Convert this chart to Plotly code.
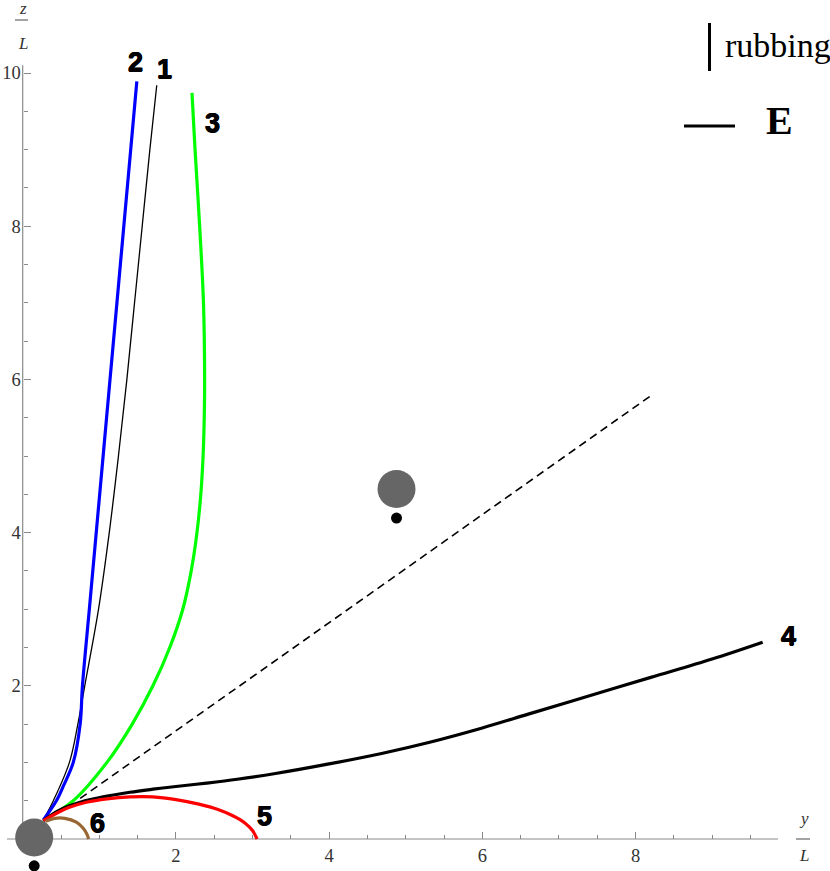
import plotly.graph_objects as go

# trajectories, values in units of L (y/L horizontal, z/L vertical)
c1_x = [0.27, 0.40, 0.61, 0.72, 0.81, 0.99, 1.13, 1.25, 1.36, 1.46, 1.56, 1.66, 1.75]
c1_z = [0.25, 0.50, 1.00, 1.50, 2.00, 3.00, 4.00, 5.00, 6.00, 7.00, 8.00, 9.00, 9.84]

c2_x = [0.27, 0.44, 0.53, 0.66, 0.75, 0.78, 0.87, 0.96, 1.05, 1.14, 1.23, 1.32, 1.41, 1.49]
c2_z = [0.25, 0.50, 0.69, 1.00, 1.50, 2.00, 3.00, 4.00, 5.00, 6.00, 7.00, 8.00, 9.00, 9.89]

c3_x = [0.27, 0.66, 1.10, 1.43, 1.70, 1.92, 2.09, 2.20, 2.275, 2.325, 2.355, 2.37, 2.375, 2.36, 2.31, 2.25, 2.21]
c3_z = [0.25, 0.50, 1.00, 1.50, 2.00, 2.50, 3.00, 3.50, 4.00, 4.50, 5.00, 5.50, 6.00, 7.00, 8.00, 9.00, 9.74]

c4_x = [0.27, 0.45, 0.60, 0.75, 1.05, 1.40, 1.70, 2.00, 2.40, 2.80, 3.30, 4.00, 4.70, 5.30, 6.00, 6.60, 7.40, 8.20, 9.00, 9.66]
c4_z = [0.24, 0.36, 0.43, 0.48, 0.55, 0.61, 0.65, 0.685, 0.73, 0.78, 0.855, 0.98, 1.12, 1.26, 1.45, 1.63, 1.87, 2.11, 2.35, 2.57]

c5_x = [0.27, 0.45, 0.60, 0.83, 1.10, 1.40, 1.70, 2.00, 2.30, 2.55, 2.75, 2.90, 3.00, 3.06]
c5_z = [0.24, 0.34, 0.41, 0.48, 0.525, 0.55, 0.55, 0.515, 0.455, 0.385, 0.30, 0.21, 0.11, 0.0]

c6_x = [0.30, 0.42, 0.55, 0.70, 0.79, 0.84, 0.86]
c6_z = [0.23, 0.27, 0.27, 0.22, 0.14, 0.06, 0.0]

# field direction (dashed)
dash_x = [0.75, 8.19]
dash_z = [0.53, 5.78]

# particles: big grey disks with small black dots beneath
disk_x = [0.15, 4.88]
disk_z = [0.02, 4.57]
dot_x = [0.15, 4.88]
dot_z = [-0.35, 4.19]

labels = ["1", "2", "3", "4", "5", "6"]
label_x = [1.85, 1.47, 2.48, 10.0, 3.16, 0.98]
label_z = [10.05, 10.14, 9.35, 2.65, 0.30, 0.215]

x_ticks = [2, 4, 6, 8]
z_ticks = [2, 4, 6, 8, 10]
x_minor = [v / 2 for v in range(1, 20) if v % 4]
z_minor = [v / 2 for v in range(1, 20) if v % 4]

W, H = 830, 871
ox, oy, s = 22.7, 839.0, 76.6   # pixel of origin, px per unit
x_range = [-ox / s, (W - ox) / s]
y_range = [-(H - oy) / s, oy / s]


def px(x, y):
    return x / W, 1 - y / H


serif = "Liberation Serif"
axis_col = "#8a8a8a"

fig = go.Figure()

fig.add_trace(go.Scatter(x=dash_x, y=dash_z, mode="lines",
                         line=dict(color="black", width=1.6, dash="8px,5px")))

curves = [
    (c1_x, c1_z, "black", 1.3),
    (c3_x, c3_z, "#00ff00", 3.2),
    (c2_x, c2_z, "#0000ff", 3.2),
    (c4_x, c4_z, "black", 3.2),
    (c5_x, c5_z, "#ff0000", 3.2),
    (c6_x, c6_z, "#996633", 3.2),
]
for cx, cz, col, w in curves:
    fig.add_trace(go.Scatter(x=cx, y=cz, mode="lines",
                             line=dict(color=col, width=w, shape="spline", smoothing=1.0)))

fig.add_trace(go.Scatter(x=disk_x, y=disk_z, mode="markers", cliponaxis=False,
                         marker=dict(size=38, color="#666666", line=dict(width=0))))
fig.add_trace(go.Scatter(x=dot_x, y=dot_z, mode="markers", cliponaxis=False,
                         marker=dict(size=11, color="black", line=dict(width=0))))

for t, lx, lz in zip(labels, label_x, label_z):
    fig.add_annotation(x=lx, y=lz, text="<b>" + t + "</b>", showarrow=False,
                       font=dict(family="Liberation Sans", size=27, color="black",
                                 shadow="0.6px 0 0 #000, -0.6px 0 0 #000, 0 0.6px 0 #000"))

# axis lines
fig.add_shape(type="line", x0=-0.205, x1=9.86, y0=0, y1=0, layer="below",
              line=dict(color=axis_col, width=1.2))
fig.add_shape(type="line", x0=0, x1=0, y0=0, y1=10.1, layer="below",
              line=dict(color=axis_col, width=1.2))


def note(cx, cy, text, size, **kw):
    x, y = px(cx, cy)
    fig.add_annotation(x=x, y=y, xref="paper", yref="paper", text=text, showarrow=False,
                       xanchor=kw.get("xanchor", "center"), yanchor="middle",
                       font=dict(family=serif, size=size, color=kw.get("color", "black")))


def seg(x0, y0, x1, y1, col, w):
    a, b = px(x0, y0)
    c, d = px(x1, y1)
    fig.add_shape(type="line", xref="paper", yref="paper", x0=a, x1=c, y0=b, y1=d,
                  line=dict(color=col, width=w))


# axis titles as fractions
note(22.5, 8, "<i>z</i>", 17, color="#333")
seg(15, 20, 28, 20, "#666", 1.2)
note(22.5, 43, "<i>L</i>", 17, color="#333")
note(803.5, 818, "<i>y</i>", 17, color="#333")
seg(796, 839, 810, 839, "#666", 1.2)
note(803.5, 855, "<i>L</i>", 17, color="#333")

# legend glyphs
seg(709.5, 23, 709.5, 71, "black", 3)
seg(684, 126, 735, 126, "black", 3)
note(723, 46, "rubbing", 34, xanchor="left")
note(779, 121, "<b>E</b>", 40)

tick_font = dict(family=serif, size=18.5, color="#333")
fig.update_xaxes(range=x_range, domain=[0, 1], anchor="free",
                 position=-y_range[0] / (y_range[1] - y_range[0]),
                 showline=False, showgrid=False, zeroline=False,
                 tickmode="array", tickvals=x_ticks, ticks="inside", ticklen=7,
                 tickcolor=axis_col, tickwidth=1, tickfont=tick_font, ticklabelstandoff=3,
                 minor=dict(tickmode="array", tickvals=x_minor, ticks="inside",
                            ticklen=4, tickcolor=axis_col, tickwidth=1))
fig.update_yaxes(range=y_range, domain=[0, 1], anchor="free",
                 position=-x_range[0] / (x_range[1] - x_range[0]),
                 showline=False, showgrid=False, zeroline=False,
                 tickmode="array", tickvals=z_ticks, ticks="inside", ticklen=7,
                 tickcolor=axis_col, tickwidth=1, tickfont=tick_font, ticklabelstandoff=2,
                 minor=dict(tickmode="array", tickvals=z_minor, ticks="inside",
                            ticklen=4, tickcolor=axis_col, tickwidth=1))

fig.update_layout(width=W, height=H, margin=dict(l=0, r=0, t=0, b=0),
                  paper_bgcolor="white", plot_bgcolor="white", showlegend=False)

# page body has a default 8px margin; drop it so the figure fills the window
fig.write_html("out.html", config={"displayModeBar": False},
               post_script="document.body.style.margin='0';")
